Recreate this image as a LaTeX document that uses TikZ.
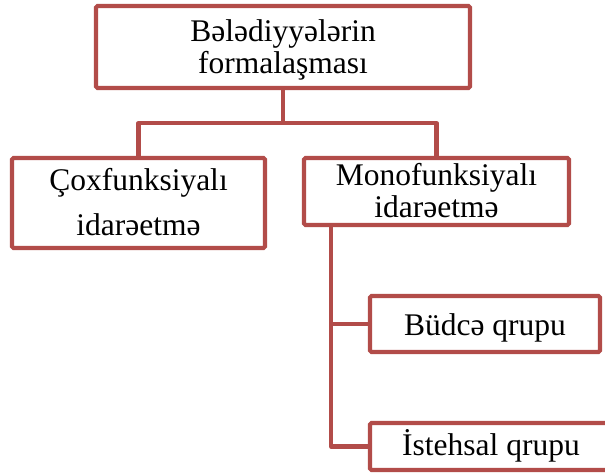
\documentclass[tikz,border=0pt]{standalone}
\usepackage{fontspec}
\setmainfont{Liberation Serif}
\definecolor{boxred}{RGB}{178,76,73}
\begin{document}
\begin{tikzpicture}[x=1pt,y=-1pt,
  box/.style={draw=boxred,line width=4.2pt,fill=white,rectangle,inner sep=0pt,outer sep=0pt,rounded corners=1.5pt},
  link/.style={draw=boxred,line width=4.2pt,line join=round},
  txt/.style={anchor=base,inner sep=0pt,font=\fontsize{31.5}{32}\selectfont,text=black}]
\useasboundingbox (0,0) rectangle (605,472);
\clip (0,0) rectangle (605,472);
% boxes
\node[box,minimum width=374pt,minimum height=82pt] (top) at (283,47) {};
\node[box,minimum width=253pt,minimum height=90pt] (left) at (138.5,203) {};
\node[box,minimum width=265pt,minimum height=67pt] (mono) at (436.5,191.5) {};
\node[box,minimum width=230pt,minimum height=56pt] (bud) at (485,324) {};
\node[box,minimum width=242pt,minimum height=47pt] (ist) at (491,446.5) {};
% texts
\node[txt] (t1a) at (283,41) {Bələdiyyələrin};
\node[txt] (t1b) at (283,73) {formalaşması};
\node[txt] (t2a) at (138.5,190) {Çoxfunksiyalı};
\node[txt] (t2b) at (138.5,235) {idarəetmə};
\node[txt] (t3a) at (436.5,185) {Monofunksiyalı};
\node[txt] (t3b) at (436.5,217) {idarəetmə};
\node[txt] (t4) at (485,335) {Büdcə qrupu};
\node[txt] (t5) at (491,455) {İstehsal qrupu};
% connectors
\coordinate (bar) at (283,123);
\coordinate (mv) at (331,225);
\draw[link] (top.south) -- (bar);
\draw[link] (left.north) -- (left.north |- bar) -| (mono.north);
\draw[link] (mv) |- (bud.west);
\draw[link] (mv) |- (ist.west);
\end{tikzpicture}
\end{document}
